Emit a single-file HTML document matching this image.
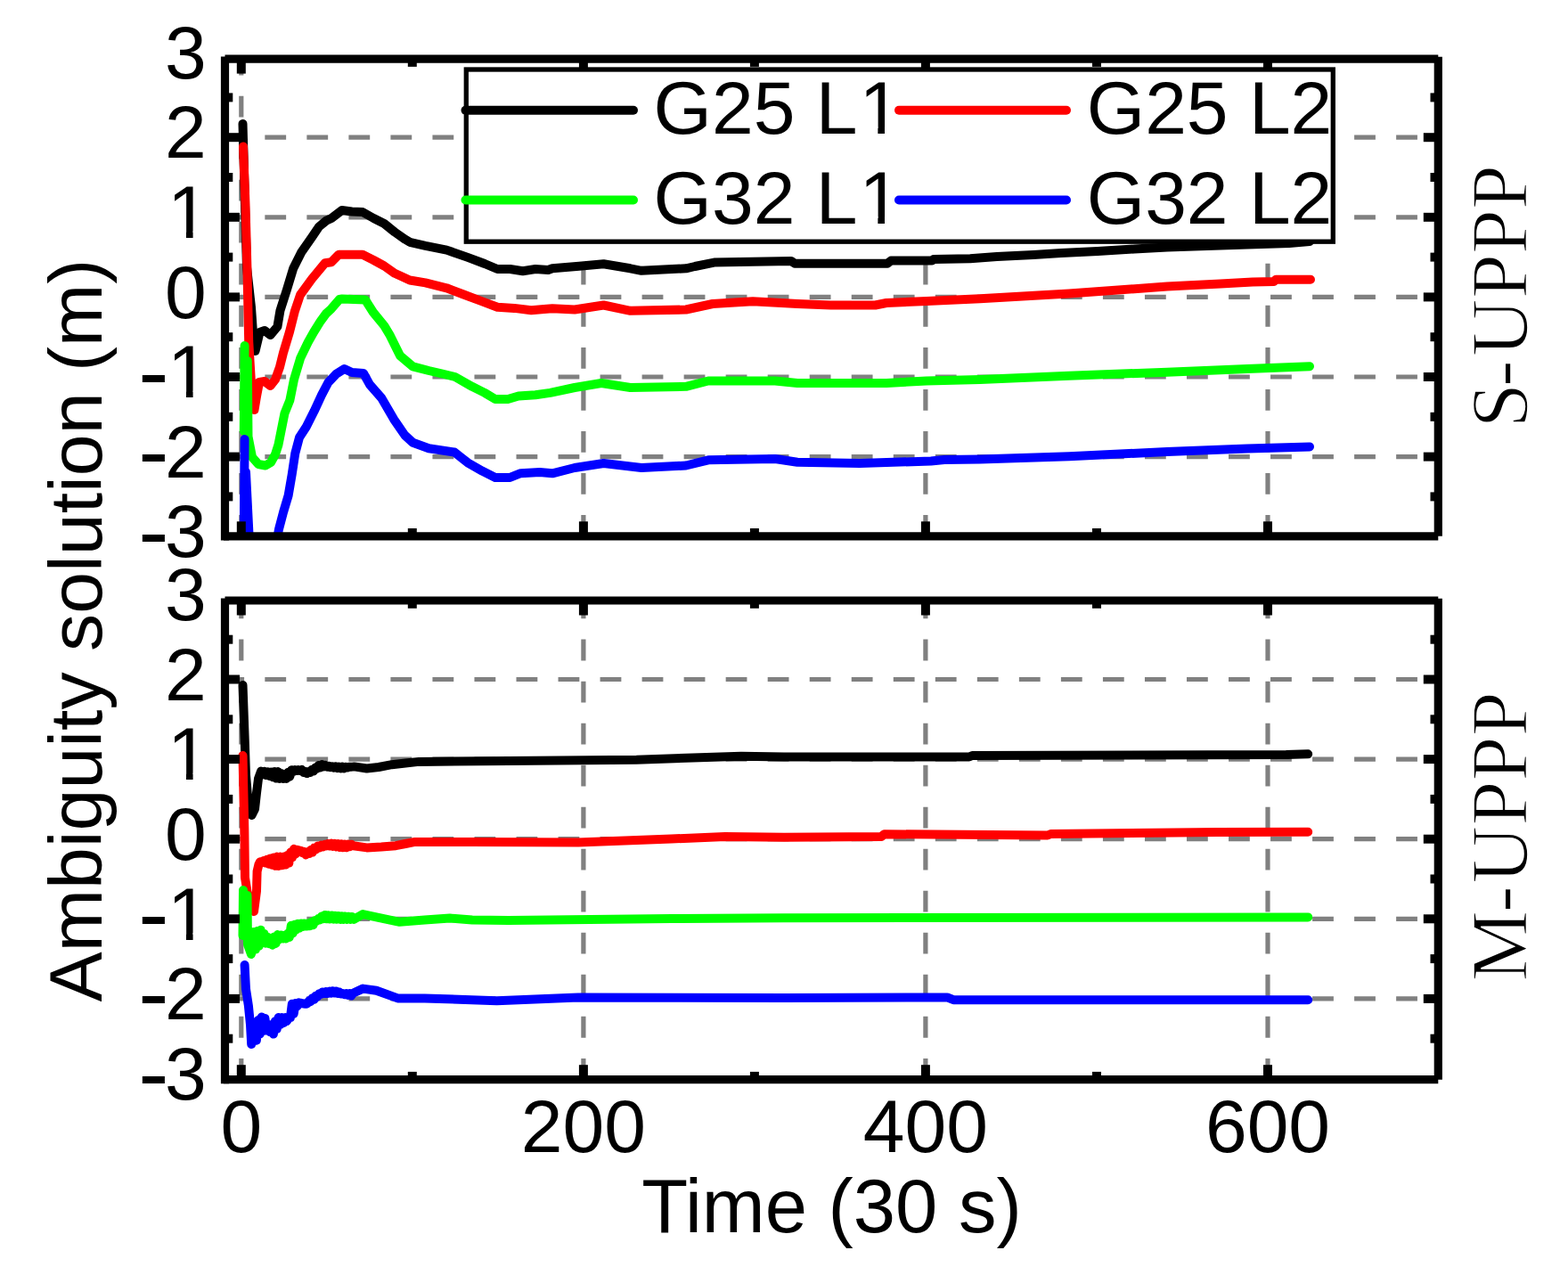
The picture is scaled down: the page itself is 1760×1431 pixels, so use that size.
<!DOCTYPE html><html><head><meta charset="utf-8"><title>Ambiguity solution</title><style>html,body{margin:0;padding:0;background:#fff;overflow:hidden}svg{display:block}.t{font-family:"Liberation Sans",Arial,sans-serif;fill:#000}.s{font-family:"Liberation Serif","Times New Roman",serif;fill:#000}</style></head><body>
<svg width="1760" height="1431" viewBox="0 0 1760 1431">
<rect width="1760" height="1431" fill="#fff"/>
<defs><clipPath id="cT"><rect x="252.5" y="66.1" width="1361.8" height="535.6999999999999"/></clipPath><clipPath id="cB"><rect x="252.5" y="674.0" width="1361.8" height="537.7"/></clipPath></defs>
<g stroke="#808080" stroke-width="5.2" stroke-dasharray="23.8 23.23" fill="none"><line x1="250.3" y1="154.2" x2="1614.3" y2="154.2"/><line x1="250.3" y1="243.8" x2="1614.3" y2="243.8"/><line x1="250.3" y1="333.4" x2="1614.3" y2="333.4"/><line x1="250.3" y1="423" x2="1614.3" y2="423"/><line x1="250.3" y1="512.6" x2="1614.3" y2="512.6"/><line x1="270.8" y1="601.8" x2="270.8" y2="66.1"/><line x1="654.9" y1="601.8" x2="654.9" y2="66.1"/><line x1="1038.9" y1="601.8" x2="1038.9" y2="66.1"/><line x1="1423" y1="601.8" x2="1423" y2="66.1"/></g>
<g stroke="#808080" stroke-width="5.2" stroke-dasharray="23.8 23.23" fill="none"><line x1="250.3" y1="762.5" x2="1614.3" y2="762.5"/><line x1="250.3" y1="852.1" x2="1614.3" y2="852.1"/><line x1="250.3" y1="941.7" x2="1614.3" y2="941.7"/><line x1="250.3" y1="1031.3" x2="1614.3" y2="1031.3"/><line x1="250.3" y1="1120.9" x2="1614.3" y2="1120.9"/><line x1="270.8" y1="1211.7" x2="270.8" y2="674"/><line x1="654.9" y1="1211.7" x2="654.9" y2="674"/><line x1="1038.9" y1="1211.7" x2="1038.9" y2="674"/><line x1="1423" y1="1211.7" x2="1423" y2="674"/></g>
<path clip-path="url(#cT)" d="M272.5,139 L275,230 L277,300 L282,345 L285,388 L286.5,394 L291.5,373 L297,371 L303.5,376 L311.4,366.6 L314.4,348.8 L322,325 L329.2,301.3 L338.1,283.4 L350.5,265.6 L358,254.5 L366,247.8 L372,245 L383.8,236 L395,237.5 L407,238 L419.4,245 L431.3,251 L443.1,260.5 L455,268.8 L460,271.8 L477.5,275.8 L501.3,280.6 L525,288.9 L544,296 L558.3,302 L572.5,302 L586.8,304.3 L601,302 L615.3,303 L620,301.3 L650,298.8 L677.5,296.3 L707.5,301.3 L720,303.8 L770,301.3 L780,299 L801.6,294.6 L888,293 L892,295.7 L996,295.7 L1000,292.6 L1046,292.6 L1048,291 L1089,290.3 L1119,288.1 L1160,286 L1191,284 L1232,282 L1273,279.5 L1310,277.5 L1355,276 L1400,274.5 L1447,273 L1470,271" fill="none" stroke="#000000" stroke-width="10" stroke-linejoin="round" stroke-linecap="round"/>
<path clip-path="url(#cT)" d="M273,164.5 L275.5,230 L277.4,300 L279.2,383 L282,430 L285.5,460 L288,445 L291,429 L297,428 L303.5,433 L309,426 L314,412 L317.9,396.3 L325,372.5 L331,348.8 L337,331 L350,313.1 L364.8,295.3 L371.9,294.3 L380.2,285.8 L384,285.8 L407,285.8 L419.4,292 L431.3,298.5 L443.1,306.8 L460,314.5 L477.5,317.4 L501.3,323.3 L520.3,330.5 L539.3,337.6 L558.3,344.7 L577.3,345.9 L596.3,348.3 L610.5,347 L620,346.3 L645,347.5 L677.5,342.5 L707.5,348.8 L770,347.5 L800,341 L845,338.3 L895,341 L932.5,342.5 L982.5,342.5 L995,340 L1040,338 L1100,335.3 L1200,329.5 L1310,321.5 L1370,318.5 L1406,316.5 L1430,316 L1432,313.8 L1471,313.8" fill="none" stroke="#ff0000" stroke-width="10" stroke-linejoin="round" stroke-linecap="round"/>
<path clip-path="url(#cT)" d="M274.6,388 L273.8,484 L277.8,405 L278.5,490 L283,513 L290,521 L298,522.5 L304,519 L309,510 L312.4,499.4 L319.5,463.8 L325.3,449.4 L330.1,425.6 L337.2,401.9 L345.8,384 L352.3,372.5 L360,360.2 L366,352 L371.9,346.6 L381,336 L384,335.5 L410,336.5 L418.9,350.5 L431.3,365.6 L437.3,375.6 L446.2,393.4 L449.2,399.4 L463.4,411.3 L481.3,416 L496.5,419.5 L510.8,423 L529.8,433.8 L544,440.9 L555.9,448 L570.1,448 L582,444.5 L601,443.3 L617.6,440.9 L645,435 L675,430 L707.5,435 L770,433.8 L795,427.5 L870,427.5 L895,430 L995,430 L1040,427.5 L1100,426 L1200,421.7 L1310,417.7 L1400,414 L1470,411.2" fill="none" stroke="#00ff00" stroke-width="10" stroke-linejoin="round" stroke-linecap="round"/>
<path clip-path="url(#cT)" d="M274.6,493 L273.8,600 L276,530 L280,610 L285,650 L305,640 L313,594 L318,575 L323.6,556.3 L327.7,532.5 L331.3,508.8 L336,491 L343.8,479 L352.7,461.3 L361,443.4 L368.4,429.2 L377.4,419.7 L386.5,414 L395,418 L408,419 L415,431.6 L428.4,446.9 L442.1,470.6 L454.4,488.5 L463.4,496.8 L481.3,503.3 L510,507.5 L525,519.3 L541.6,528.8 L555.9,535.9 L572.5,535.9 L584.4,531.2 L605.8,530 L620,531.3 L645,525 L677.5,520 L720,525 L770,522.5 L795,516.3 L870,515 L895,518.8 L965,520 L1045,517.5 L1060,516 L1100,515.5 L1200,512.2 L1310,507 L1400,503.5 L1470,501.4" fill="none" stroke="#0000ff" stroke-width="10" stroke-linejoin="round" stroke-linecap="round"/>
<path clip-path="url(#cB)" d="M272.5,769 L274.7,830 L276,870 L278.5,900 L282.5,915 L286,908 L288,890 L290,874 L293,865.6 L294.9,869.2 L296.8,865.8 L298.7,870.1 L300.6,866.2 L302.5,871 L304.4,866.5 L306.3,872.2 L308.2,866 L310.1,873.6 L312,866.1 L313.9,873.9 L315.8,868 L317.7,873.9 L319.6,869.1 L321.5,873.9 L323.4,866.7 L325.3,871.5 L327.2,864.2 L329.1,866 L331,864 L332.9,865 L334.8,864 L336.7,864.9 L338.6,864 L340.5,866.8 L342.4,865.9 L344.3,868.1 L346.2,866.1 L348.1,866.9 L350,864 L351.9,865.6 L353.8,861.6 L355.7,862.6 L357.6,858.9 L359.5,861.5 L361.4,858.1 L363.3,860.3 L365.2,858.9 L367.1,860.7 L369,859.8 L370.9,861.2 L372.8,860.2 L374.7,861.6 L376.6,860.4 L378.5,862 L380.4,860.6 L382.3,862.5 L384.2,860.8 L386.1,862.3 L388,860.8 L389.9,861.5 L391.8,860.8 L393.7,860.8 L395.6,860.6 L397.5,860.4 L411.7,862.5 L425,861 L439.8,858.2 L455,856.5 L470.2,854.9 L570.7,854 L714.4,852.7 L832,848.8 L880,849.5 L1087.8,849.5 L1091.3,848 L1443.6,847 L1468.2,846.3" fill="none" stroke="#000000" stroke-width="10" stroke-linejoin="round" stroke-linecap="round"/>
<path clip-path="url(#cB)" d="M272.5,848 L274.3,930 L275,985 L279,1010 L285,1023 L288,1000 L288.6,978 L290.5,970 L292,967.2 L293.9,967.5 L295.8,966.2 L297.7,968.5 L299.6,964.7 L301.5,969.7 L303.4,963.5 L305.3,970.8 L307.2,962.5 L309.1,971.8 L311,961.6 L312.9,971.9 L314.8,961.6 L316.7,971.2 L318.6,961.6 L320.5,970.5 L322.4,960.1 L324.3,968.6 L326.2,956.5 L328.1,962.2 L330,952.8 L331.9,958.5 L333.8,953.8 L335.7,954.9 L337.6,954.7 L339.5,957.1 L341.4,955.8 L343.3,959.4 L345.2,956.2 L347.1,958.1 L349,953.8 L350.9,956.6 L352.8,951.4 L354.7,953.2 L356.6,949.5 L358.5,951.6 L360.4,948.6 L362.3,950.6 L364.2,947.8 L366.1,949.5 L368,946.9 L369.9,949.5 L371.8,946.6 L373.7,950 L375.6,946.8 L377.5,950.4 L379.4,947 L381.3,950.9 L383.2,947.2 L385.1,951.3 L387,947.4 L388.9,951.2 L390.8,947.5 L392.7,950.2 L394.6,947.7 L396.5,949.3 L411.7,951.4 L428,950.5 L444.2,949.2 L455,947 L465.9,944.9 L530,944.9 L649,945.5 L753.6,941.5 L813.8,939 L880,939.8 L989.2,939 L992.7,936.2 L1175.9,937.5 L1179.4,936 L1366.1,934 L1468.2,933.8" fill="none" stroke="#ff0000" stroke-width="10" stroke-linejoin="round" stroke-linecap="round"/>
<path clip-path="url(#cB)" d="M273,999 L272.5,1050 L277.5,1005 L278,1060 L282,1071 L285,1046 L286.9,1065.5 L288.8,1045.1 L290.7,1061.7 L292.6,1043.8 L294.5,1058.2 L296.4,1048 L298.3,1058.7 L300.2,1051.7 L302.1,1059.3 L304,1053.7 L305.9,1060.7 L307.8,1051.4 L309.7,1058.9 L311.6,1049.1 L313.5,1054.2 L315.4,1049.4 L317.3,1053.4 L319.2,1049.7 L321.1,1053.4 L323,1047.6 L324.9,1051.9 L326.8,1038.8 L328.7,1047.3 L330.6,1037.8 L332.5,1043.5 L334.4,1036.7 L336.3,1041.5 L338.2,1036.4 L340.1,1039.9 L342,1036.4 L343.9,1039.6 L345.8,1036.4 L347.7,1039.3 L349.6,1034.9 L351.5,1038.2 L353.4,1033.3 L355.3,1033.7 L357.2,1031.2 L359.1,1032.4 L361,1028.5 L362.9,1031.2 L364.8,1026.9 L366.7,1031.3 L368.6,1027.2 L370.5,1031.5 L372.4,1027.4 L374.3,1031.7 L376.2,1027.7 L378.1,1031.8 L380,1027.9 L381.9,1031.9 L383.8,1028.2 L385.7,1031.9 L387.6,1028.4 L389.5,1031.9 L391.4,1028.7 L393.3,1031.9 L395.2,1028.9 L397.1,1031.9 L407.3,1026.1 L422.5,1029.4 L448.5,1034.8 L476.7,1032.6 L504.9,1030.5 L530,1032.6 L570.7,1033 L753.6,1031 L880,1030.2 L1468.2,1029.4" fill="none" stroke="#00ff00" stroke-width="10" stroke-linejoin="round" stroke-linecap="round"/>
<path clip-path="url(#cB)" d="M274.6,1083 L276,1110 L278.9,1128.7 L281,1150 L282.2,1172 L286,1148.8 L287.9,1167.7 L289.8,1145 L291.7,1160.6 L293.6,1141.5 L295.5,1157 L297.4,1143 L299.3,1156.5 L301.2,1150.7 L303.1,1158.2 L305,1150 L306.9,1160.6 L308.8,1146.3 L310.7,1154.9 L312.6,1142 L314.5,1150 L316.4,1142 L318.3,1148 L320.2,1142 L322.1,1145.9 L324,1142 L325.9,1142.1 L327.8,1126.8 L329.7,1137.7 L331.6,1126.1 L333.5,1129.5 L335.4,1125.3 L337.3,1125.8 L339.2,1126.1 L341.1,1126.5 L343,1126.8 L344.9,1126.3 L346.8,1123.4 L348.7,1124.1 L350.6,1120.3 L352.5,1121.8 L354.4,1117.7 L356.3,1118.7 L358.2,1115.2 L360.1,1115.7 L362,1113.4 L363.9,1115.1 L365.8,1113 L367.7,1115 L369.6,1112.6 L371.5,1114.8 L373.4,1112.2 L375.3,1114.6 L377.2,1112.4 L379.1,1114.8 L381,1113.7 L382.9,1115.5 L384.8,1114.9 L386.7,1116.2 L388.6,1115.1 L390.5,1116.9 L392.4,1114.9 L394.3,1117.6 L396.2,1114.7 L407.3,1109.6 L422.5,1111.8 L446.4,1120.4 L476.7,1120.4 L557.6,1123.2 L649,1119.5 L880,1120 L1063.2,1119.4 L1070.2,1122.2 L1468.2,1122.3" fill="none" stroke="#0000ff" stroke-width="10" stroke-linejoin="round" stroke-linecap="round"/>
<g stroke="#000" stroke-width="9.2" fill="none"><line x1="252.5" y1="63.5" x2="252.5" y2="606.4"/><line x1="1614.3" y1="63.8" x2="1614.3" y2="601.8"/><line x1="252.5" y1="66.1" x2="1614.3" y2="66.1"/><line x1="251" y1="601.8" x2="1614.3" y2="601.8"/></g><g stroke="#000" stroke-width="10.0" fill="none"><line x1="252.5" y1="557.4" x2="261.3" y2="557.4"/><line x1="1614.3" y1="557.4" x2="1605.5" y2="557.4"/><line x1="252.5" y1="512.6" x2="269" y2="512.6"/><line x1="1614.3" y1="512.6" x2="1597.8" y2="512.6"/><line x1="252.5" y1="467.8" x2="261.3" y2="467.8"/><line x1="1614.3" y1="467.8" x2="1605.5" y2="467.8"/><line x1="252.5" y1="423" x2="269" y2="423"/><line x1="1614.3" y1="423" x2="1597.8" y2="423"/><line x1="252.5" y1="378.2" x2="261.3" y2="378.2"/><line x1="1614.3" y1="378.2" x2="1605.5" y2="378.2"/><line x1="252.5" y1="333.4" x2="269" y2="333.4"/><line x1="1614.3" y1="333.4" x2="1597.8" y2="333.4"/><line x1="252.5" y1="288.6" x2="261.3" y2="288.6"/><line x1="1614.3" y1="288.6" x2="1605.5" y2="288.6"/><line x1="252.5" y1="243.8" x2="269" y2="243.8"/><line x1="1614.3" y1="243.8" x2="1597.8" y2="243.8"/><line x1="252.5" y1="199" x2="261.3" y2="199"/><line x1="1614.3" y1="199" x2="1605.5" y2="199"/><line x1="252.5" y1="154.2" x2="269" y2="154.2"/><line x1="1614.3" y1="154.2" x2="1597.8" y2="154.2"/><line x1="252.5" y1="109.4" x2="261.3" y2="109.4"/><line x1="1614.3" y1="109.4" x2="1605.5" y2="109.4"/><line x1="270.8" y1="66.1" x2="270.8" y2="82.6"/><line x1="270.8" y1="601.8" x2="270.8" y2="585.3"/><line x1="462.8" y1="66.1" x2="462.8" y2="74.9"/><line x1="462.8" y1="601.8" x2="462.8" y2="593"/><line x1="654.9" y1="66.1" x2="654.9" y2="82.6"/><line x1="654.9" y1="601.8" x2="654.9" y2="585.3"/><line x1="846.9" y1="66.1" x2="846.9" y2="74.9"/><line x1="846.9" y1="601.8" x2="846.9" y2="593"/><line x1="1038.9" y1="66.1" x2="1038.9" y2="82.6"/><line x1="1038.9" y1="601.8" x2="1038.9" y2="585.3"/><line x1="1231" y1="66.1" x2="1231" y2="74.9"/><line x1="1231" y1="601.8" x2="1231" y2="593"/><line x1="1423" y1="66.1" x2="1423" y2="82.6"/><line x1="1423" y1="601.8" x2="1423" y2="585.3"/></g>
<g stroke="#000" stroke-width="9.2" fill="none"><line x1="252.5" y1="671.4" x2="252.5" y2="1216.3"/><line x1="1614.3" y1="671.7" x2="1614.3" y2="1211.7"/><line x1="252.5" y1="674" x2="1614.3" y2="674"/><line x1="251" y1="1211.7" x2="1614.3" y2="1211.7"/></g><g stroke="#000" stroke-width="10.0" fill="none"><line x1="252.5" y1="1165.7" x2="261.3" y2="1165.7"/><line x1="1614.3" y1="1165.7" x2="1605.5" y2="1165.7"/><line x1="252.5" y1="1120.9" x2="269" y2="1120.9"/><line x1="1614.3" y1="1120.9" x2="1597.8" y2="1120.9"/><line x1="252.5" y1="1076.1" x2="261.3" y2="1076.1"/><line x1="1614.3" y1="1076.1" x2="1605.5" y2="1076.1"/><line x1="252.5" y1="1031.3" x2="269" y2="1031.3"/><line x1="1614.3" y1="1031.3" x2="1597.8" y2="1031.3"/><line x1="252.5" y1="986.5" x2="261.3" y2="986.5"/><line x1="1614.3" y1="986.5" x2="1605.5" y2="986.5"/><line x1="252.5" y1="941.7" x2="269" y2="941.7"/><line x1="1614.3" y1="941.7" x2="1597.8" y2="941.7"/><line x1="252.5" y1="896.9" x2="261.3" y2="896.9"/><line x1="1614.3" y1="896.9" x2="1605.5" y2="896.9"/><line x1="252.5" y1="852.1" x2="269" y2="852.1"/><line x1="1614.3" y1="852.1" x2="1597.8" y2="852.1"/><line x1="252.5" y1="807.3" x2="261.3" y2="807.3"/><line x1="1614.3" y1="807.3" x2="1605.5" y2="807.3"/><line x1="252.5" y1="762.5" x2="269" y2="762.5"/><line x1="1614.3" y1="762.5" x2="1597.8" y2="762.5"/><line x1="252.5" y1="717.7" x2="261.3" y2="717.7"/><line x1="1614.3" y1="717.7" x2="1605.5" y2="717.7"/><line x1="270.8" y1="674" x2="270.8" y2="690.5"/><line x1="270.8" y1="1211.7" x2="270.8" y2="1195.2"/><line x1="462.8" y1="674" x2="462.8" y2="682.8"/><line x1="462.8" y1="1211.7" x2="462.8" y2="1202.9"/><line x1="654.9" y1="674" x2="654.9" y2="690.5"/><line x1="654.9" y1="1211.7" x2="654.9" y2="1195.2"/><line x1="846.9" y1="674" x2="846.9" y2="682.8"/><line x1="846.9" y1="1211.7" x2="846.9" y2="1202.9"/><line x1="1038.9" y1="674" x2="1038.9" y2="690.5"/><line x1="1038.9" y1="1211.7" x2="1038.9" y2="1195.2"/><line x1="1231" y1="674" x2="1231" y2="682.8"/><line x1="1231" y1="1211.7" x2="1231" y2="1202.9"/><line x1="1423" y1="674" x2="1423" y2="690.5"/><line x1="1423" y1="1211.7" x2="1423" y2="1195.2"/></g>
<rect x="523.3" y="78" width="973" height="193.2" fill="#fff" stroke="#000" stroke-width="5.3"/>
<g stroke-width="10" stroke-linecap="round" fill="none"><line x1="522.5" y1="123.8" x2="711" y2="123.8" stroke="#000"/><line x1="1009" y1="123.8" x2="1197" y2="123.8" stroke="#f00"/><line x1="522.5" y1="224.5" x2="711" y2="224.5" stroke="#0f0"/><line x1="1009" y1="224.5" x2="1197" y2="224.5" stroke="#00f"/></g>
<defs><clipPath id="lg0"><rect x="-10" y="-10" width="1780" height="152.5"/><rect x="-10" y="-10" width="971.4" height="1460"/><rect x="985.37" y="140.5" width="7.64" height="20"/></clipPath><clipPath id="lg1"><rect x="-10" y="-10" width="1780" height="253"/><rect x="-10" y="-10" width="971.4" height="1460"/><rect x="985.37" y="241" width="7.64" height="20"/></clipPath><clipPath id="yl3"><rect x="-10" y="-10" width="1780" height="269.5"/><rect x="-10" y="-10" width="197" height="1460"/><rect x="208.95" y="257.5" width="7.64" height="20"/></clipPath><clipPath id="yl5"><rect x="-10" y="-10" width="1780" height="448.7"/><rect x="-10" y="-10" width="197" height="1460"/><rect x="208.95" y="436.7" width="7.64" height="20"/></clipPath><clipPath id="yl10"><rect x="-10" y="-10" width="1780" height="877.8"/><rect x="-10" y="-10" width="197" height="1460"/><rect x="208.95" y="865.8" width="7.64" height="20"/></clipPath><clipPath id="yl12"><rect x="-10" y="-10" width="1780" height="1057"/><rect x="-10" y="-10" width="197" height="1460"/><rect x="208.95" y="1045" width="7.64" height="20"/></clipPath></defs>
<g class="t" font-size="84">
<text x="733.6" y="150" clip-path="url(#lg0)">G25 L<tspan dx="2">1</tspan></text>
<text x="733.6" y="250.5" clip-path="url(#lg1)">G32 L<tspan dx="2">1</tspan></text>
<text x="1219.8" y="150">G25 L2</text>
<text x="1219.8" y="250.5">G32 L2</text>
<text x="231.7" y="87.8" text-anchor="end">3</text>
<text x="231.7" y="177.4" text-anchor="end">2</text>
<text x="234.7" y="267" text-anchor="end" clip-path="url(#yl3)">1</text>
<text x="231.7" y="356.6" text-anchor="end">0</text>
<text x="234.7" y="446.2" text-anchor="end" clip-path="url(#yl5)"><tspan font-size="102.9" dy="5.3">-</tspan><tspan dx="-1.5" dy="-5.3">1</tspan></text>
<text x="231.7" y="535.8" text-anchor="end"><tspan font-size="102.9" dy="5.3">-</tspan><tspan dx="-4.5" dy="-5.3">2</tspan></text>
<text x="231.7" y="625.4" text-anchor="end"><tspan font-size="102.9" dy="5.3">-</tspan><tspan dx="-4.5" dy="-5.3">3</tspan></text>
<text x="231.7" y="696.1" text-anchor="end">3</text>
<text x="231.7" y="785.7" text-anchor="end">2</text>
<text x="234.7" y="875.3" text-anchor="end" clip-path="url(#yl10)">1</text>
<text x="231.7" y="964.9" text-anchor="end">0</text>
<text x="234.7" y="1054.5" text-anchor="end" clip-path="url(#yl12)"><tspan font-size="102.9" dy="5.3">-</tspan><tspan dx="-1.5" dy="-5.3">1</tspan></text>
<text x="231.7" y="1144.1" text-anchor="end"><tspan font-size="102.9" dy="5.3">-</tspan><tspan dx="-4.5" dy="-5.3">2</tspan></text>
<text x="231.7" y="1233.7" text-anchor="end"><tspan font-size="102.9" dy="5.3">-</tspan><tspan dx="-4.5" dy="-5.3">3</tspan></text>
<text x="270.8" y="1293" text-anchor="middle">0</text>
<text x="654.9" y="1293" text-anchor="middle">200</text>
<text x="1038.9" y="1293" text-anchor="middle">400</text>
<text x="1423" y="1293" text-anchor="middle">600</text>
<text x="720.2" y="1383.1" font-size="85">Time (30 s)</text>
<text transform="translate(113.7 707.6) rotate(-90)" x="0" y="0" text-anchor="middle" font-size="84.3">Ambiguity solution (m)</text>
</g>
<g class="s" font-size="90" stroke="#fff" stroke-width="1.6">
<text transform="translate(1714 480.3) rotate(-90)" x="0" y="0">S<tspan dx="-4">-</tspan><tspan dx="4">UPPP</tspan></text>
<text transform="translate(1714.2 1101.7) rotate(-90)" x="0" y="0">M<tspan dx="-2.5">-</tspan><tspan dx="2.5">UPPP</tspan></text>
</g>
</svg></body></html>
